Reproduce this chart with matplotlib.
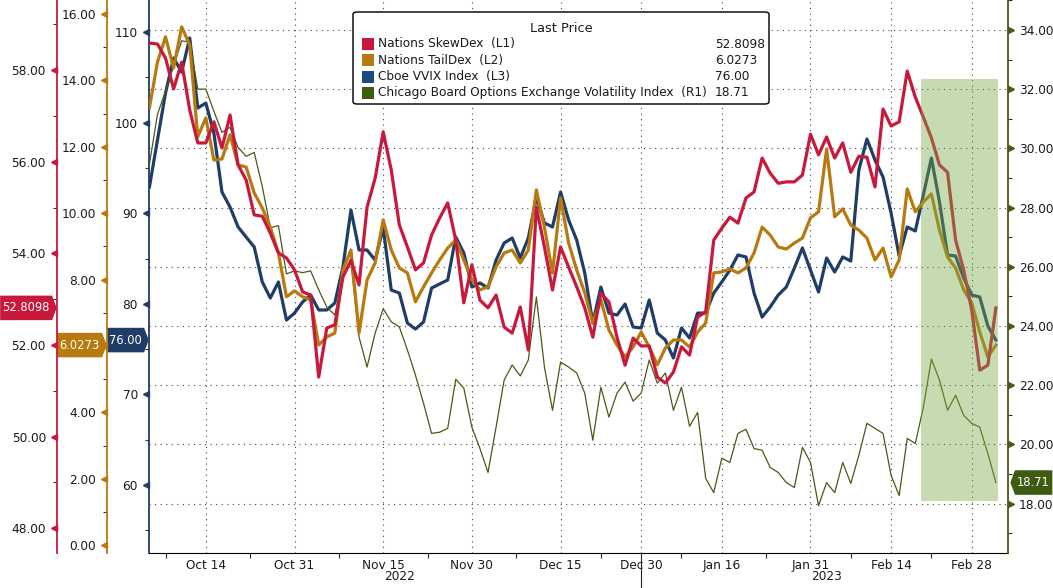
import matplotlib
matplotlib.use('Agg')
import matplotlib.pyplot as plt
import numpy as np
import pandas as pd
from matplotlib.path import Path
from matplotlib.patches import Rectangle, FancyBboxPatch
from matplotlib.transforms import blended_transform_factory, ScaledTranslation

plt.rcParams['font.family'] = ['DejaVu Sans']

# trading days shown (Bloomberg drops the two year-end holidays)
dates = pd.bdate_range('2022-10-05', '2023-03-03')
dates = dates.drop(pd.to_datetime(['2022-12-26', '2023-01-02']))

# Nations SkewDex (L1)
skew = [58.59, 58.57, 58.26, 57.59, 58.17, 57.13, 56.41, 56.41, 56.87, 56.30,
        57.02, 55.93, 55.60, 54.84, 54.81, 54.44, 54.01, 53.90, 53.64, 53.16,
        53.09, 51.30, 52.37, 52.44, 53.48, 53.85, 53.31, 55.01, 55.64, 56.65,
        55.82, 54.62, 54.14, 53.64, 53.79, 54.40, 54.77, 55.10, 54.29, 52.92,
        53.75, 52.98, 52.81, 53.09, 52.39, 52.26, 52.83, 51.89, 55.01, 54.14,
        53.20, 54.14, 53.70, 53.27, 52.81, 52.17, 53.13, 52.94, 52.17, 51.56,
        52.15, 51.98, 51.98, 51.30, 51.17, 51.41, 51.96, 51.78, 52.61, 52.72,
        54.29, 54.55, 54.79, 54.66, 55.21, 55.34, 56.08, 55.75, 55.53, 55.56,
        55.56, 55.71, 56.60, 56.15, 56.54, 56.08, 56.41, 55.77, 56.12, 56.10,
        55.45, 57.15, 56.78, 56.87, 57.98, 57.41, 56.97, 56.52, 55.93, 55.77,
        54.29, 53.64, 52.76, 51.45, 51.56, 52.8098]

# Nations TailDex (L2)
tail = [13.17, 14.55, 15.31, 14.37, 15.61, 15.07, 12.30, 12.87, 11.60, 11.63,
        12.36, 11.45, 11.39, 10.61, 10.16, 9.58, 8.80, 7.48, 7.66, 7.48,
        7.39, 6.03, 6.27, 6.39, 8.29, 8.89, 6.39, 7.99, 8.50, 9.80,
        8.89, 8.35, 8.20, 7.33, 7.78, 8.20, 8.59, 8.95, 9.19, 8.59,
        7.99, 7.69, 7.78, 8.38, 8.80, 8.89, 8.50, 8.89, 10.70, 9.58,
        8.20, 10.46, 9.10, 8.29, 7.60, 6.69, 7.39, 6.48, 6.03, 5.67,
        5.97, 6.42, 5.97, 5.43, 5.94, 6.18, 6.18, 5.97, 6.42, 6.69,
        8.20, 8.23, 8.32, 8.20, 8.35, 8.80, 9.58, 9.34, 8.98, 8.92,
        9.10, 9.25, 9.86, 10.04, 11.93, 9.89, 10.13, 9.64, 9.49, 9.25,
        8.59, 8.95, 8.08, 8.59, 10.73, 10.04, 10.34, 10.58, 9.49, 8.68,
        8.35, 7.69, 7.30, 6.42, 5.67, 6.0273]

# Cboe VVIX Index (L3)
vvix = [92.89, 98.08, 103.27, 107.13, 105.58, 109.34, 101.61, 102.16, 98.85, 92.34,
        90.68, 88.48, 87.37, 86.27, 82.41, 80.64, 82.41, 78.21, 78.98, 80.20,
        80.97, 79.32, 79.32, 80.09, 84.06, 90.35, 85.94, 85.94, 84.83, 88.37,
        81.52, 81.19, 77.88, 77.22, 77.99, 81.74, 82.19, 82.63, 87.37, 85.61,
        81.85, 82.30, 81.74, 84.83, 86.71, 87.26, 85.06, 87.26, 91.79, 88.92,
        88.48, 92.34, 89.25, 87.04, 83.40, 77.88, 81.85, 78.98, 78.76, 79.98,
        77.44, 77.33, 80.42, 76.78, 76.00, 74.02, 77.33, 76.23, 78.98, 78.98,
        81.19, 82.41, 83.73, 85.39, 85.17, 81.19, 78.54, 79.65, 80.97, 81.85,
        83.95, 86.16, 83.73, 81.30, 85.06, 83.51, 85.17, 84.72, 94.77, 98.19,
        95.87, 93.99, 90.02, 85.28, 88.48, 88.04, 92.01, 96.09, 91.24, 85.39,
        85.28, 82.85, 80.97, 80.75, 77.55, 76.00]

# Chicago Board Options Exchange Volatility Index (R1)
vix = [29.46, 31.15, 31.93, 32.78, 33.63, 33.59, 32.00, 32.00, 31.25, 30.54,
       30.71, 30.03, 29.73, 29.86, 28.71, 27.32, 27.39, 25.76, 25.86, 25.80,
       25.86, 25.22, 24.64, 24.37, 25.66, 26.14, 23.63, 22.61, 23.76, 24.58,
       24.14, 23.97, 23.19, 22.34, 21.39, 20.37, 20.41, 20.54, 22.20, 21.90,
       20.58, 19.86, 19.05, 20.58, 22.17, 22.68, 22.31, 22.85, 24.98, 22.61,
       21.15, 22.78, 22.61, 22.41, 21.73, 20.14, 21.93, 20.92, 21.73, 22.10,
       21.46, 21.73, 22.85, 22.07, 22.41, 21.15, 21.93, 20.61, 21.08, 18.85,
       18.37, 19.53, 19.39, 20.37, 20.51, 19.86, 19.80, 19.22, 19.05, 18.71,
       18.54, 19.90, 19.39, 17.93, 18.71, 18.37, 19.39, 18.68, 19.63, 20.71,
       20.54, 20.37, 18.95, 18.27, 20.20, 20.03, 21.25, 22.88, 22.17, 21.15,
       21.66, 20.98, 20.71, 20.58, 19.69, 18.71]

tick_days = ['2022-10-14', '2022-10-31', '2022-11-15', '2022-11-30', '2022-12-15',
             '2022-12-30', '2023-01-16', '2023-01-31', '2023-02-14', '2023-02-28']
names = ['Nations SkewDex  (L1)', 'Nations TailDex  (L2)', 'Cboe VVIX Index  (L3)',
         'Chicago Board Options Exchange Volatility Index  (R1)']

RED = '#c8193c'
GOLD = '#b8790f'
NAVY = '#1f3d66'
OLIVE = '#4a5a16'
OLIVE_BOX = '#3d5c12'
SHADE = '#78aa46'
GRID = '#444444'

x = np.arange(len(dates))
W, H = 1053, 588
fig = plt.figure(figsize=(W / 100, H / 100), dpi=100)
ax = fig.add_axes([149 / W, 35 / H, 859 / W, 553 / H])   # L3 host
axr = ax.twinx()                                          # R1
ax2 = ax.twinx()                                          # L2
ax1 = ax.twinx()                                          # L1

L1_POS, L2_POS = -0.1071, -0.0489

ax.plot(x, vvix, color=NAVY, lw=2.3, solid_joinstyle='round')
axr.plot(x, vix, color=OLIVE, lw=0.9)
ax2.plot(x, tail, color=GOLD, lw=2.3, solid_joinstyle='round')
ax1.plot(x, skew, color=RED, lw=2.3, solid_joinstyle='round')

# highlighted window, drawn over the lines
ax1.add_patch(Rectangle((95.7, 18.1), 105.3 - 95.7, 32.35 - 18.1,
                        transform=axr.transData, fc=SHADE, ec='none', alpha=0.42, zorder=6))

# spines
for s in ['top', 'right']:
    ax.spines[s].set_visible(False)
ax.spines['left'].set_color(NAVY)
ax.spines['left'].set_linewidth(1.3)
for s in ['top', 'left', 'bottom']:
    axr.spines[s].set_visible(False)
axr.spines['right'].set_color(OLIVE)
axr.spines['right'].set_linewidth(1.3)
for par, pos, col in [(ax1, L1_POS, RED), (ax2, L2_POS, GOLD)]:
    for s in ['top', 'right', 'bottom']:
        par.spines[s].set_visible(False)
    par.spines['left'].set_visible(True)
    par.spines['left'].set_position(('axes', pos))
    par.spines['left'].set_color(col)
    par.spines['left'].set_linewidth(1.3)
    par.yaxis.set_ticks_position('left')
    par.yaxis.set_label_position('left')

# y scales
l1_ticks = np.arange(48, 59, 2)
l2_ticks = np.arange(0, 17, 2)
l3_ticks = np.arange(60, 111, 10)
r1_ticks = np.arange(18, 35, 2)
ax1.set_ylim(47.46, 59.53)
ax1.set_yticks(l1_ticks)
ax1.set_yticks(np.arange(49, 60, 2), minor=True)
ax1.set_yticklabels([f'{v:.2f}' for v in l1_ticks])
ax2.set_ylim(-0.235, 16.42)
ax2.set_yticks(l2_ticks)
ax2.set_yticks(np.arange(1, 16, 2), minor=True)
# the 6.00 label sits under the last-value tag in the original
ax2.set_yticklabels(['' if v == 6 else f'{v:.2f}' for v in l2_ticks])
ax.set_ylim(52.5, 113.53)
ax.set_yticks(l3_ticks)
ax.set_yticks(np.arange(55, 111, 5), minor=True)
ax.set_yticklabels([f'{v:d}' for v in l3_ticks])
axr.set_ylim(16.33, 35.01)
axr.set_yticks(r1_ticks)
axr.set_yticks(np.arange(17, 36, 2), minor=True)
axr.set_yticklabels([f'{v:.2f}' for v in r1_ticks])


def tri_marks(par, xpos, values, color, side):
    ms = 4.6
    dx = -ms / 2 if side == 'left' else ms / 2
    tr = blended_transform_factory(par.transAxes, par.transData) + \
        ScaledTranslation(dx / 72, 0, fig.dpi_scale_trans)
    par.plot(np.full(len(values), xpos), values, ls='none',
             marker='<' if side == 'left' else '>', ms=ms, color=color,
             transform=tr, clip_on=False, zorder=7)


for par, pos, col, side in [(ax1, L1_POS, RED, 'left'), (ax2, L2_POS, GOLD, 'left'),
                            (ax, 0, NAVY, 'left'), (axr, 1, OLIVE, 'right')]:
    par.tick_params(axis='y', which='major', length=6.5, width=0, pad=1.5,
                    labelsize=8.7, labelcolor='#1a1a1a')
    par.tick_params(axis='y', which='minor', length=3, width=0.8, color='#333333')
    tri_marks(par, pos, par.get_yticks(), col, side)

# x axis
tick_pos = [dates.get_loc(pd.Timestamp(d)) for d in tick_days]
ax.set_xticks(tick_pos)
ax.set_xticklabels([f'{pd.Timestamp(d):%b} {pd.Timestamp(d).day}' for d in tick_days])
minor_pos = [tick_pos[0] - 5] + [(a + b) / 2 for a, b in zip(tick_pos[:-1], tick_pos[1:])]
ax.set_xticks(minor_pos, minor=True)
ax.tick_params(axis='x', which='major', length=0, pad=4, labelsize=8.7, labelcolor='#1a1a1a')
ax.tick_params(axis='x', which='minor', length=3.5, width=0.8, color='#222222')
ax.grid(axis='x', which='major', color=GRID, ls=(0, (1, 4)), lw=0.8)
axr.grid(axis='y', which='major', color=GRID, ls=(0, (1, 4)), lw=0.8)
ax.set_xlim(-0.05, 106.5)

# year labels and separator
xtr = blended_transform_factory(ax.transData, ax.transAxes)
is22 = dates.year == 2022
for yr, mask in [('2022', is22), ('2023', ~is22)]:
    xs = x[mask]
    ax.text((xs[0] + xs[-1] + 1) / 2, -0.042, yr, transform=xtr, ha='center',
            va='center', fontsize=8.7, color='#1a1a1a')
sep = x[is22][-1]
ax.plot([sep, sep], [0, -0.07], transform=xtr, color='#222222', lw=0.8, clip_on=False)

# pentagon value tags
PADX, PADY, TIP = 0.2, 0.5, 0.4


def tag_style(side):
    def style(x0, y0, width, height, mutation_size):
        px, py = PADX * mutation_size, PADY * mutation_size
        tip = TIP * mutation_size
        x0, y0 = x0 - px, y0 - py
        x1, y1 = x0 + width + 2 * px, y0 + height + 2 * py
        ym = (y0 + y1) / 2
        if side == 'right':
            verts = [(x0, y0), (x1, y0), (x1 + tip, ym), (x1, y1), (x0, y1), (x0, y0)]
        else:
            verts = [(x0, y0), (x1, y0), (x1, y1), (x0, y1), (x0 - tip, ym), (x0, y0)]
        return Path(verts, closed=True)
    return style


fs = 8.3
off = (PADX + TIP) * fs + 0.2
for par, pos, val, txt, col, side in [
        (ax1, L1_POS, skew[-1], f'{skew[-1]:.4f}', RED, 'right'),
        (ax2, L2_POS, tail[-1], f'{tail[-1]:.4f}', GOLD, 'right'),
        (ax, 0, vvix[-1], f'{vvix[-1]:.2f}', NAVY, 'right'),
        (axr, 1, vix[-1], f'{vix[-1]:.2f}', OLIVE_BOX, 'left')]:
    par.annotate(txt, xy=(pos, val), xycoords=('axes fraction', 'data'),
                 xytext=(-off if side == 'right' else off + 1.5, 0), textcoords='offset points',
                 ha='right' if side == 'right' else 'left', va='center', color='white',
                 fontsize=fs, annotation_clip=False, zorder=8,
                 bbox=dict(boxstyle=tag_style(side), fc=col, ec='none'))

# legend block
fig.add_artist(FancyBboxPatch((353 / W, 1 - 104 / H), 416 / W, 92 / H,
                              boxstyle='round,pad=0,rounding_size=0.004',
                              transform=fig.transFigure, fc='white', ec='#111111',
                              lw=1.1, zorder=10))
fig.text(561 / W, 1 - 28 / H, 'Last Price', ha='center', va='center',
         fontsize=9.3, color='#1a1a1a', zorder=11)
leg_cols = [RED, GOLD, '#1f4a7a', '#3d5c0e']
leg_vals = [f'{skew[-1]:.4f}', f'{tail[-1]:.4f}', f'{vvix[-1]:.2f}', f'{vix[-1]:.2f}']
for i, (name, val, col) in enumerate(zip(names, leg_vals, leg_cols)):
    yy = 1 - (44 + 16.3 * i) / H
    fig.add_artist(Rectangle((362 / W, yy - 6 / H), 12 / W, 12 / H,
                             transform=fig.transFigure, fc=col, ec='none', zorder=11))
    fig.text(378 / W, yy, name, ha='left', va='center', fontsize=8.7, color='#1a1a1a', zorder=11)
    fig.text(715 / W, yy, val, ha='left', va='center', fontsize=8.7, color='#1a1a1a', zorder=11)

fig.savefig('out.png', dpi=100)
